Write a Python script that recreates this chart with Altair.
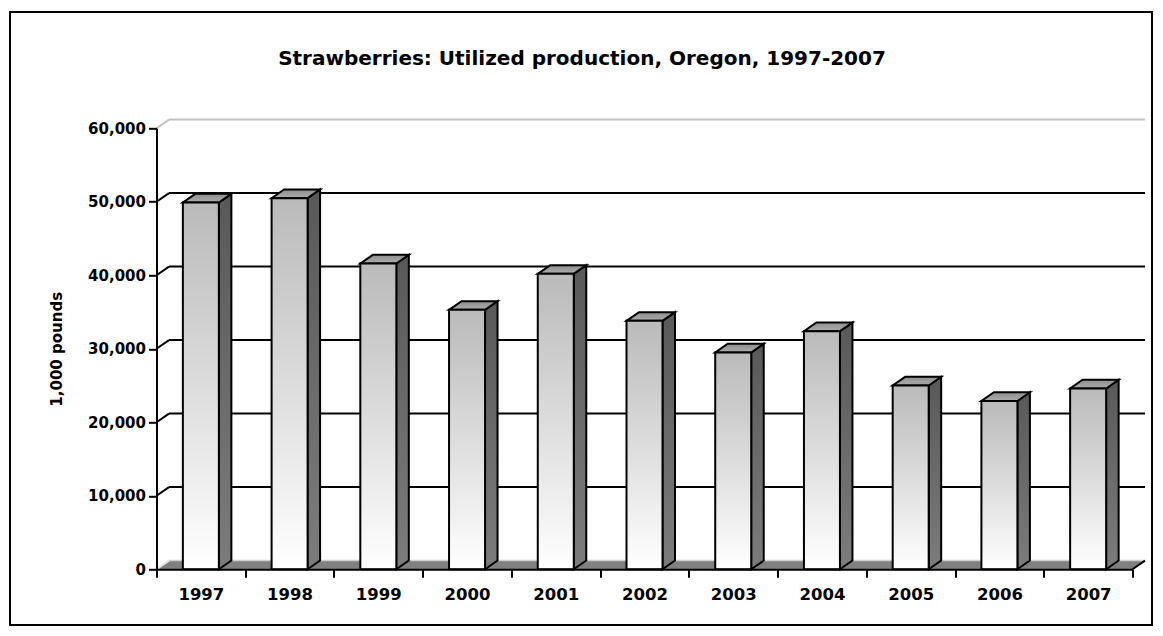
import json
import altair as alt
import pandas as pd

# ---------------- data ----------------
years = ["1997", "1998", "1999", "2000", "2001", "2002", "2003", "2004", "2005", "2006", "2007"]
production = [49900, 50500, 41600, 35300, 40200, 33800, 29500, 32400, 25000, 22900, 24600]
y_ticks = [0, 10000, 20000, 30000, 40000, 50000, 60000]
chart_title = "Strawberries: Utilized production, Oregon, 1997-2007"
y_title = "1,000 pounds"

# ---------------- layout / style ----------------
N = len(years)
Y_MAX = y_ticks[-1]
W, H = 976, 441            # front plane of the plot
OX, OY = 156.5, 128.3      # page position of the plot origin
SVG_W, SVG_H = 1146, 619   # whole drawing
PAD_L, PAD_T = OX - 8, OY - 8
BAND = W / N
DEPTH_X = 12.5 / BAND      # 3-D depth, in band units
DEPTH_Y = 8.7 / H * Y_MAX  # 3-D depth, in value units
HALF = 18 / BAND           # half bar width, in band units
FONT = "DejaVu Sans"

x_scale = alt.Scale(domain=[0, N], nice=False, zero=False)
y_scale = alt.Scale(domain=[0, Y_MAX], nice=False, zero=False)

label_expr = "datum.value < %d ? %s[datum.value] : ''" % (N, json.dumps(years))
x_axis = alt.Axis(
    values=list(range(N + 1)), labelExpr=label_expr, labelOffset=BAND / 2,
    labelOverlap=False, labelFlush=False, labelBound=False,
    labelFont=FONT, labelFontSize=16.5, labelFontWeight="bold", labelColor="black",
    labelPadding=9, tickSize=8, tickWidth=2, tickColor="black",
    domainColor="black", domainWidth=2, grid=False, title=None, zindex=1,
)
y_axis = alt.Axis(
    values=y_ticks, format=",d", labelFont=FONT, labelFontSize=15,
    labelFontWeight="bold", labelColor="black", labelPadding=3,
    tickSize=8, tickWidth=2, tickColor="black", domainColor="black",
    domainWidth=2, grid=False, zindex=1,
    title=y_title, titleFont=FONT, titleFontSize=15, titleFontWeight="bold",
    titleColor="black", titleAngle=270, titleX=-95, titleY=H / 2,
    titleAlign="center", titleBaseline="alphabetic",
)


def X(field="x"):
    return alt.X(f"{field}:Q", scale=x_scale, axis=x_axis)


def Y(field="y"):
    return alt.Y(f"{field}:Q", scale=y_scale, axis=y_axis)


# ---------------- derived tables ----------------
front = pd.DataFrame({
    "year": years,
    "x": [i + 0.5 - HALF for i in range(N)],
    "x2": [i + 0.5 + HALF for i in range(N)],
    "y": [0] * N,
    "y2": production,
})

side_rows, top_rows = [], []
for i, (yr, v) in enumerate(zip(years, production)):
    x0, x1 = i + 0.5 - HALF, i + 0.5 + HALF
    side_rows += [
        {"year": yr, "x": x1, "y": 0, "y2": v},
        {"year": yr, "x": x1 + DEPTH_X, "y": DEPTH_Y, "y2": v + DEPTH_Y},
    ]
    top_rows += [
        {"year": yr, "x": x0, "y": v, "y2": v},
        {"year": yr, "x": x0 + DEPTH_X, "y": v, "y2": v + DEPTH_Y},
        {"year": yr, "x": x1, "y": v, "y2": v + DEPTH_Y},
        {"year": yr, "x": x1 + DEPTH_X, "y": v + DEPTH_Y, "y2": v + DEPTH_Y},
    ]
side = pd.DataFrame(side_rows)
top = pd.DataFrame(top_rows)

floor = pd.DataFrame({
    "x": [0, DEPTH_X, N, N + DEPTH_X],
    "y": [0, 0, 0, DEPTH_Y],
    "y2": [0, DEPTH_Y, DEPTH_Y, DEPTH_Y],
})

wall = pd.DataFrame({
    "x": [DEPTH_X] * (len(y_ticks) - 1),
    "x2": [N + DEPTH_X] * (len(y_ticks) - 1),
    "y": [t + DEPTH_Y for t in y_ticks[1:]],
    "c": ["black"] * (len(y_ticks) - 2) + ["#c4c4c4"],
})

diag_rows = []
for t in y_ticks:
    c = "#c4c4c4" if t == Y_MAX else ("#e6e6e6" if t == 0 else "black")
    diag_rows += [{"t": t, "x": 0, "y": t, "c": c},
                  {"t": t, "x": DEPTH_X, "y": t + DEPTH_Y, "c": c}]
diag = pd.DataFrame(diag_rows)

floor_back = pd.DataFrame({"x": [DEPTH_X], "x2": [N + DEPTH_X], "y": [DEPTH_Y]})
floor_right = pd.DataFrame({"x": [N, N + DEPTH_X], "y": [0, DEPTH_Y]})

# ---------------- layers ----------------
floor_layer = alt.Chart(floor).mark_area(orient="vertical", color="#808080").encode(
    x=X(), y=Y(), y2="y2")
floor_back_layer = alt.Chart(floor_back).mark_rule(color="#cfcfcf", strokeWidth=1.5).encode(
    x=X(), x2="x2", y=Y())
floor_right_layer = alt.Chart(floor_right).mark_line(color="black", strokeWidth=2).encode(
    x=X(), y=Y())
wall_layer = alt.Chart(wall).mark_rule(strokeWidth=2).encode(
    x=X(), x2="x2", y=Y(), color=alt.Color("c:N", scale=None))
diag_layer = alt.Chart(diag).mark_line(strokeWidth=2).encode(
    x=X(), y=Y(), detail="t:N", color=alt.Color("c:N", scale=None))

side_fill = alt.Gradient(
    gradient="linear", x1=0, x2=0, y1=0, y2=1,
    stops=[alt.GradientStop(color="#595959", offset=0),
           alt.GradientStop(color="#7c7c7c", offset=1)])
side_layer = alt.Chart(side).mark_area(
    orient="vertical", fill=side_fill, stroke="black", strokeWidth=2, strokeJoin="miter"
).encode(x=X(), y=Y(), y2="y2", detail="year:N")

top_fill = alt.Gradient(
    gradient="linear", x1=0, x2=0, y1=0, y2=1,
    stops=[alt.GradientStop(color="#8e8e8e", offset=0),
           alt.GradientStop(color="#adadad", offset=1)])
top_layer = alt.Chart(top).mark_area(
    orient="vertical", fill=top_fill, stroke="black", strokeWidth=2, strokeJoin="miter"
).encode(x=X(), y=Y(), y2="y2", detail="year:N")

front_fill = alt.Gradient(
    gradient="linear", x1=0, x2=0, y1=0, y2=1,
    stops=[alt.GradientStop(color="#bababa", offset=0),
           alt.GradientStop(color="#ffffff", offset=1)])
front_layer = alt.Chart(front).mark_rect(
    fill=front_fill, stroke="black", strokeWidth=2
).encode(x=X(), x2="x2", y=Y(), y2="y2")

title_layer = alt.Chart(pd.DataFrame({"t": [chart_title]})).mark_text(
    font=FONT, fontSize=20, fontWeight="bold", color="black",
    align="center", baseline="alphabetic"
).encode(text="t:N", x=alt.value(582 - OX), y=alt.value(65 - OY))

border_layer = alt.Chart(pd.DataFrame({"k": [0]})).mark_rect(
    fillOpacity=0, stroke="black", strokeWidth=2
).encode(
    x=alt.value(10 - OX), x2=alt.value(1152 - OX),
    y=alt.value(12 - OY), y2=alt.value(625 - OY),
)

chart = alt.layer(
    floor_layer, floor_back_layer, floor_right_layer, wall_layer, diag_layer,
    side_layer, top_layer, front_layer, title_layer, border_layer,
).properties(
    width=W, height=H,
    autosize=alt.AutoSizeParams(type="none"),
    padding={"left": PAD_L, "top": PAD_T,
             "right": SVG_W - W - PAD_L, "bottom": SVG_H - H - PAD_T},
    background="white",
).configure_view(strokeWidth=0)

chart.save("out.html", embed_options={"renderer": "svg", "actions": False})
